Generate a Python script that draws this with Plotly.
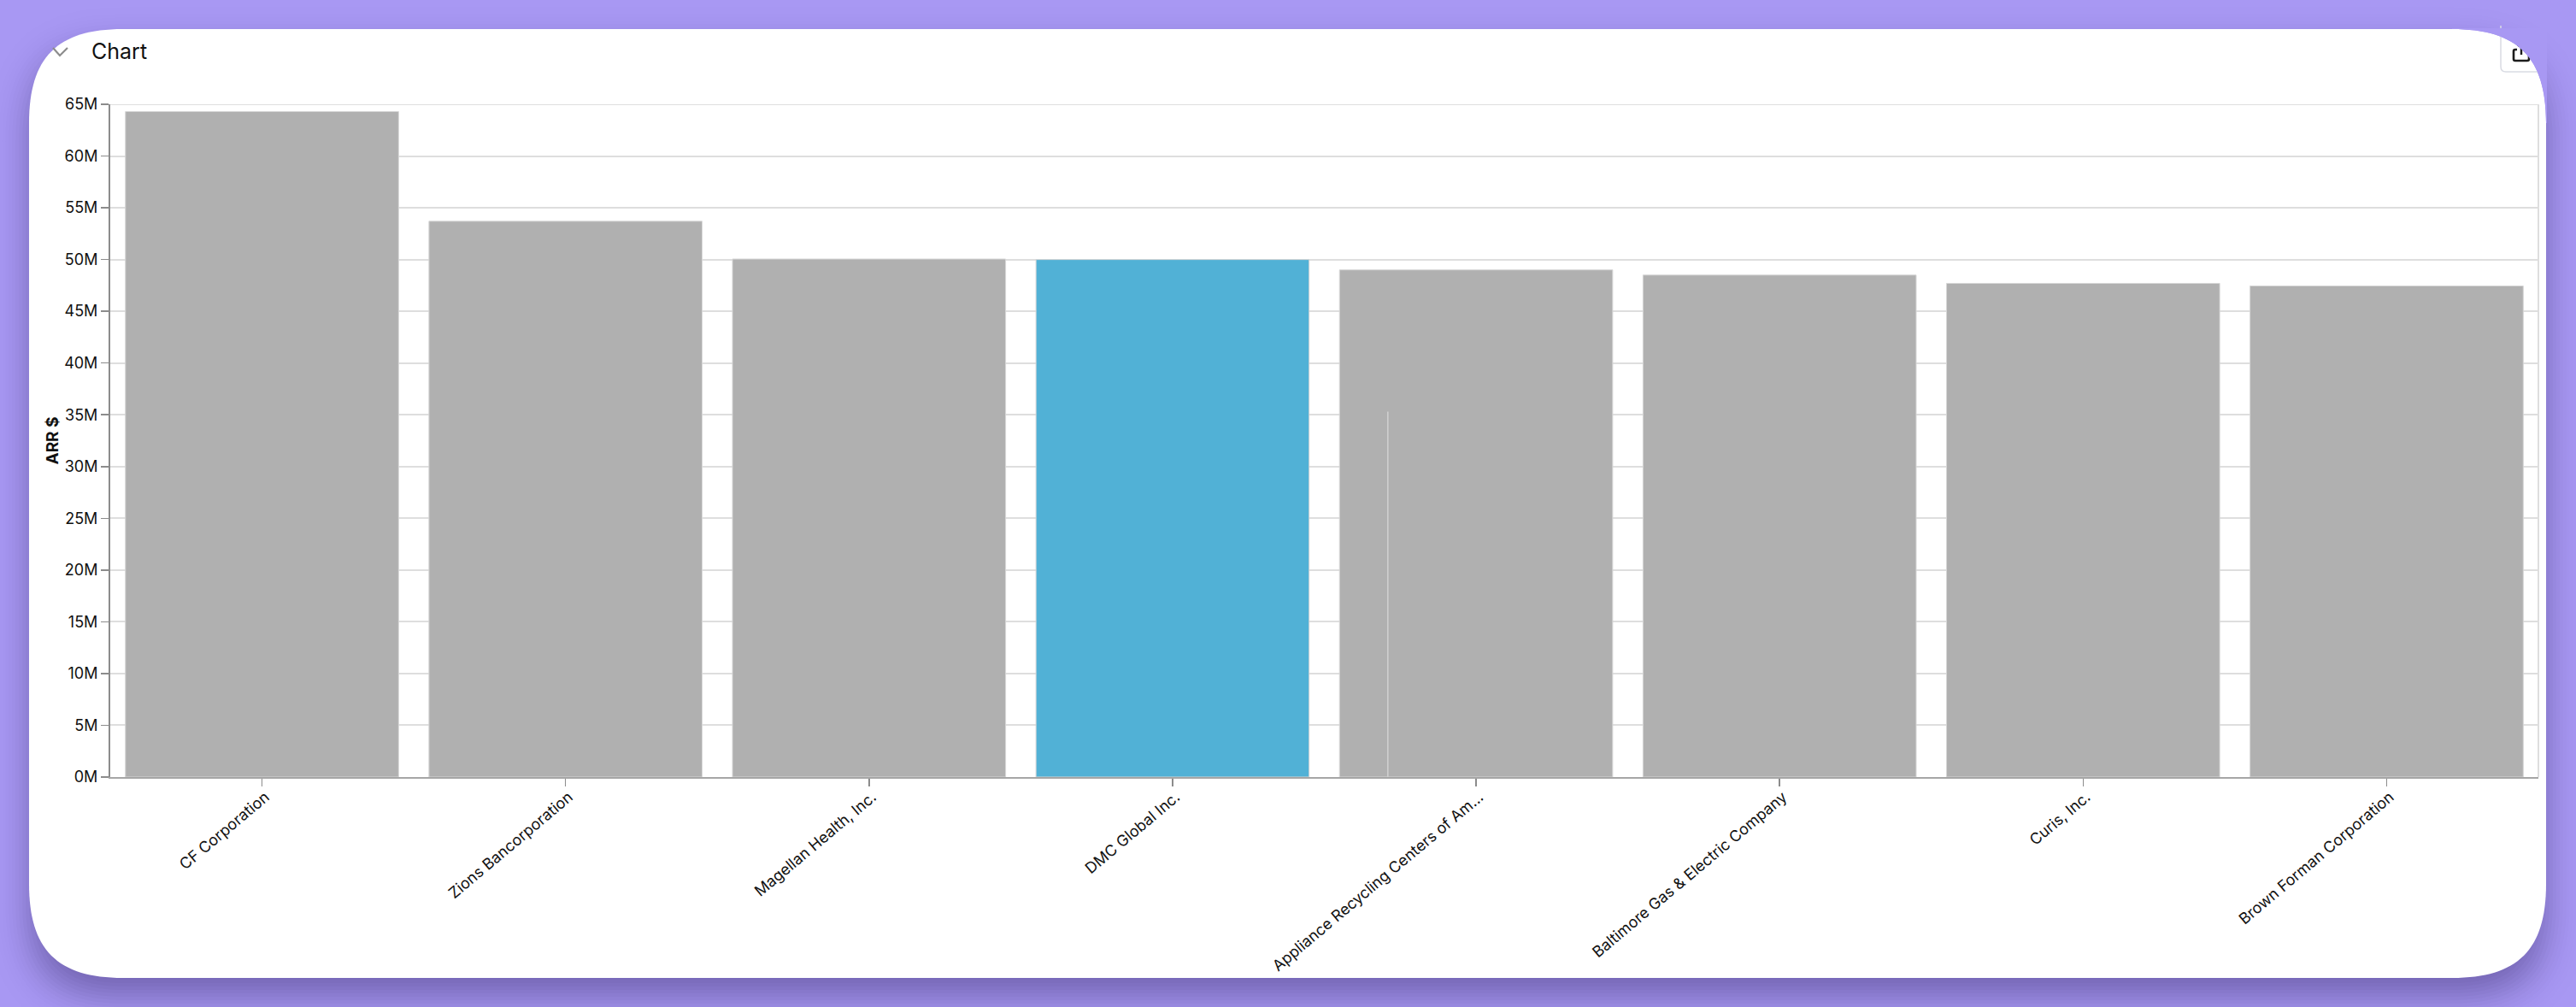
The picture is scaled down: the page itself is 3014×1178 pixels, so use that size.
import math
import plotly.graph_objects as go

# ---- data ----
categories = [
    "CF Corporation",
    "Zions Bancorporation",
    "Magellan Health, Inc.",
    "DMC Global Inc.",
    "Appliance Recycling Centers of Am...",
    "Baltimore Gas & Electric Company",
    "Curis, Inc.",
    "Brown Forman Corporation",
]
arr_values = [64.3e6, 53.7e6, 50.05e6, 50.0e6, 49.0e6, 48.5e6, 47.7e6, 47.45e6]
bar_colors = ["#b0b0b0", "#b0b0b0", "#b0b0b0", "#51b1d6", "#b0b0b0", "#b0b0b0", "#b0b0b0", "#b0b0b0"]
marker_category = ["Appliance Recycling Centers of Am..."]
marker_values = [35.3e6]
y_ticks = [i * 5e6 for i in range(14)]
y_tick_labels = [f"{i * 5}M" for i in range(14)]
y_top = 65e6

W, H = 3014, 1178
L, R, T, B = 129, 2970, 122, 909


def px(x):
    return (x - L) / (R - L)


def py(y):
    return 1 - (y - T) / (B - T)


def P(x, y):
    return f"{px(x):.5f},{py(y):.5f}"


def rounded(x0, y0, x1, y1, r, k=0.7):
    c = r * (1 - k)
    return (
        f"M{P(x0 + r, y0)} L{P(x1 - r, y0)} "
        f"C{P(x1 - c, y0)} {P(x1, y0 + c)} {P(x1, y0 + r)} "
        f"L{P(x1, y1 - r)} "
        f"C{P(x1, y1 - c)} {P(x1 - c, y1)} {P(x1 - r, y1)} "
        f"L{P(x0 + r, y1)} "
        f"C{P(x0 + c, y1)} {P(x0, y1 - c)} {P(x0, y1 - r)} "
        f"L{P(x0, y0 + r)} "
        f"C{P(x0, y0 + c)} {P(x0 + c, y0)} {P(x0 + r, y0)} Z"
    )


def shape(path, fill="rgba(0,0,0,0)", line=None, width=0):
    return dict(
        type="path", xref="paper", yref="paper", path=path, fillcolor=fill,
        line=dict(color=line or "rgba(0,0,0,0)", width=width), layer="below",
    )


CARD = (34, 34, 2979, 1144)
BG = "#a898f3"
shapes = []
# soft card shadow: stacked rounded rectangles approximating a blurred box shadow
SHADOW_PEAK, SIGMA, OFFSET, STEP = 0.30, 20.0, 22, 4


def coverage(g):
    return SHADOW_PEAK * 0.5 * (1 - math.erf(g / (SIGMA * math.sqrt(2))))


prev = 0.0
for g in range(48, -49, -STEP):
    cum = coverage(g)
    a = 1 - (1 - cum) / (1 - prev)
    prev = cum
    shapes.append(shape(
        rounded(CARD[0] - g, CARD[1] + OFFSET - g, CARD[2] + g, CARD[3] + OFFSET + g, max(110 + g, 40)),
        f"rgba(10,5,30,{a:.5f})",
    ))
# white card
shapes.append(shape(rounded(*CARD, 110), "#ffffff"))
# collapse chevron
shapes.append(shape(f"M{P(62, 56)} L{P(70, 65)} L{P(79, 56)}", line="#8c8c8c", width=2.2))
# share button and icon
shapes.append(shape(
    f"M{P(2926, 30)} L{P(2926, 78)} Q{P(2926, 84)} {P(2932, 84)} L{P(2969, 84)}",
    line="#d9dbe3", width=1.5,
))
shapes.append(shape(
    f"M{P(2945, 58)} L{P(2943, 58)} Q{P(2941, 58)} {P(2941, 60)} L{P(2941, 69)} "
    f"Q{P(2941, 71)} {P(2943, 71)} L{P(2957, 71)} Q{P(2959, 71)} {P(2959, 69)} L{P(2959, 60)} "
    f"Q{P(2959, 58)} {P(2957, 58)} L{P(2955, 58)}",
    line="#1c1c1c", width=2.6,
))
shapes.append(shape(
    f"M{P(2950, 64)} L{P(2950, 50)} M{P(2946, 54)} L{P(2950, 50)} L{P(2954, 54)}",
    line="#1c1c1c", width=2.4,
))
# purple outside the top-right corner, clips the button
x1, y0, r = CARD[2], CARD[1], 110
c = r * 0.3
shapes.append(shape(
    f"M{P(x1 - r, y0)} C{P(x1 - c, y0)} {P(x1, y0 + c)} {P(x1, y0 + r)} "
    f"L{P(x1 + 1, y0 + r)} L{P(x1 + 1, y0 - 1)} L{P(x1 - r, y0 - 1)} Z",
    BG,
))

FONT = "Inter, 'Liberation Sans', sans-serif"

fig = go.Figure()
fig.add_trace(go.Bar(
    x=categories, y=arr_values, width=0.9,
    marker=dict(color=bar_colors, line=dict(color="#d6d6d6", width=1)),
    hoverinfo="skip", showlegend=False,
))
fig.add_trace(go.Bar(
    x=marker_category, y=marker_values, width=[0.0045], offset=[-0.293],
    marker=dict(color="#cfcfcf", line=dict(width=0)),
    hoverinfo="skip", showlegend=False,
))
fig.update_layout(
    width=W, height=H, autosize=False,
    margin=dict(l=L, r=W - R, t=T, b=H - B, pad=0),
    paper_bgcolor=BG, plot_bgcolor="#ffffff",
    barmode="overlay", bargap=0.1,
    font=dict(family=FONT, size=18, color="#111111"),
    shapes=shapes,
    annotations=[dict(
        text="Chart", xref="paper", yref="paper", x=px(105), y=py(60),
        xanchor="left", yanchor="middle", showarrow=False,
        font=dict(family=FONT, size=25, color="#111111"),
    )],
    xaxis=dict(
        type="category", categoryorder="array", categoryarray=categories,
        range=[-0.5, 7.5], automargin=False,
        tickangle=-40, ticks="outside", ticklen=9, tickwidth=1.5, tickcolor="#8c8c8c",
        tickfont=dict(family=FONT, size=18, color="#111111"),
        ticklabelshift=4, ticklabelstandoff=-5,
        showline=True, linecolor="#a6a6a6", linewidth=2,
        showgrid=False, zeroline=False,
    ),
    yaxis=dict(
        range=[0, y_top], automargin=False,
        tickmode="array", tickvals=y_ticks, ticktext=y_tick_labels,
        ticks="outside", ticklen=9, tickwidth=1.5, tickcolor="#8c8c8c",
        tickfont=dict(family=FONT, size=18, color="#111111"),
        showline=True, linecolor="#8c8c8c", linewidth=2,
        showgrid=True, gridcolor="#dedede", gridwidth=2, zeroline=False,
        title=dict(text="<b>ARR $</b>", standoff=2, font=dict(family=FONT, size=19, color="#111111")),
    ),
)
# light top and right edges of the plot
fig.add_shape(type="line", xref="paper", yref="paper", x0=1, x1=1, y0=0, y1=1,
              line=dict(color="#dedede", width=2), layer="below")
fig.add_shape(type="line", xref="paper", yref="y", x0=0, x1=1, y0=y_top, y1=y_top,
              line=dict(color="#dedede", width=2), layer="below")

fig.write_html(
    "out.html",
    config=dict(displayModeBar=False, staticPlot=True),
    post_script="document.body.style.margin='0';document.body.style.background='" + BG + "';document.body.style.overflow='hidden';",
)
